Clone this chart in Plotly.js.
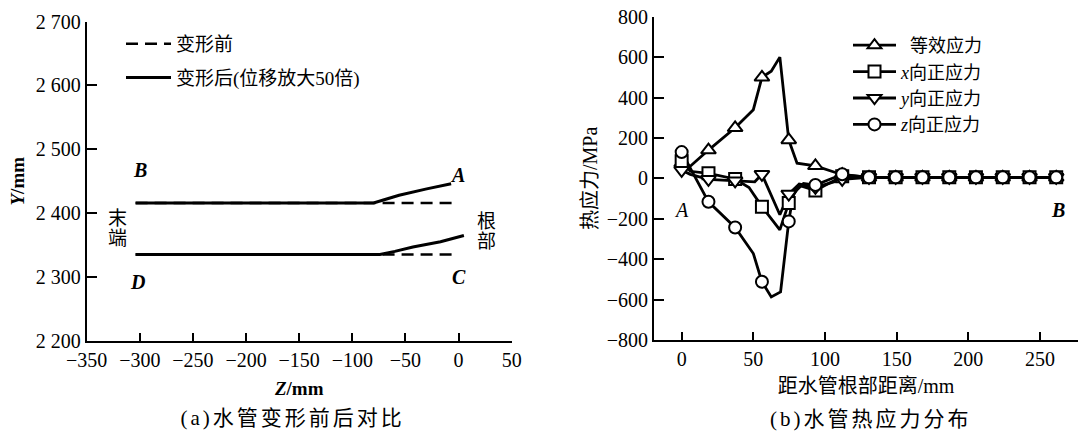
<!DOCTYPE html>
<html><head><meta charset="utf-8">
<script src="https://cdn.plot.ly/plotly-3.0.1.min.js"></script>
<style>html,body{margin:0;padding:0;background:#fff}#chart{width:1080px;height:432px}</style>
</head><body><div id="chart"></div>
<script>
// ---------- (a) pipe deformation ----------
const zBefore = [-304, 0];
const yBeforeTop = [2416, 2416];
const yBeforeBottom = [2335, 2335];
const zAfterTop = [-304, -150, -80, -70, -56, -30, -7];
const yAfterTop = [2416, 2416, 2416, 2421, 2428, 2438, 2446];
const zAfterBottom = [-304, -150, -74, -60, -43, -17, 5];
const yAfterBottom = [2335, 2335, 2335, 2340, 2347, 2355, 2365];
const zTickVals = [-350, -300, -250, -200, -150, -100, -50, 0, 50];
const yTickValsA = [2200, 2300, 2400, 2500, 2600, 2700];
const yTickTextA = ['2 200', '2 300', '2 400', '2 500', '2 600', '2 700'];
const legendA = ['变形前', '变形后(位移放大50倍)'];

// ---------- (b) thermal stress ----------
const markedDist = [0, 18.7, 37.3, 56, 74.7, 93.3, 112, 130.7, 149.3, 168, 186.7, 205.3, 224, 242.7, 261.3];
const equivMarked = [75, 140, 250, 500, 190, 62, 18, 5, 5, 5, 5, 5, 5, 5, 5];
const equivBendDist = [6, 50, 62.5, 68.5, 80.5];
const equivBend = [60, 340, 530, 600, 75];
const sxMarked = [85, 25, -3, -140, -122, -60, 10, 5, 5, 5, 5, 5, 5, 5, 5];
const sxBendDist = [6, 47, 68.5, 82];
const sxBend = [35, -45, -255, -35];
const syMarked = [40, -5, -12, 20, -78, -45, -5, 5, 5, 5, 5, 5, 5, 5, 5];
const syBendDist = [6, 51, 68.5, 82];
const syBend = [20, -17, -180, -28];
const szMarked = [130, -116, -243, -512, -213, -33, 20, 5, 5, 5, 5, 5, 5, 5, 5];
const szBendDist = [50, 62.5, 69, 78, 85];
const szBend = [-372, -587, -562, -74, -25];
const seriesNames = ['\u00a0\u00a0等效应力', '<i>x</i>向正应力', '<i>y</i>向正应力', '<i>z</i>向正应力'];
const seriesSymbols = ['triangle-up', 'square', 'triangle-down', 'circle'];
const distTickVals = [0, 50, 100, 150, 200, 250];
const stressTickVals = [-800, -600, -400, -200, 0, 200, 400, 600, 800];

const SERIF = "'Liberation Serif', 'Times New Roman', 'Noto Sans CJK SC', serif";
const CJK = "'Liberation Serif', 'Noto Sans CJK SC', sans-serif";

function merge(xa, ya, xb, yb) {
  const pts = xa.map((x, i) => [x, ya[i]]).concat(xb.map((x, i) => [x, yb[i]]));
  pts.sort((p, q) => p[0] - q[0]);
  return {x: pts.map(p => p[0]), y: pts.map(p => p[1])};
}

const traces = [];
// (a)
traces.push({
  x: zBefore.concat([null], zBefore), y: yBeforeTop.concat([null], yBeforeBottom),
  xaxis: 'x', yaxis: 'y', mode: 'lines', name: legendA[0], legend: 'legend',
  line: {color: '#000', width: 2.5, dash: '12px,7px'}, legendgroup: 'a1'
});
traces.push({
  x: zAfterTop.concat([null], zAfterBottom), y: yAfterTop.concat([null], yAfterBottom),
  xaxis: 'x', yaxis: 'y', mode: 'lines', name: legendA[1], legend: 'legend',
  line: {color: '#000', width: 3}, legendgroup: 'a2'
});

// (b)
const seriesMarked = [equivMarked, sxMarked, syMarked, szMarked];
const seriesBendX = [equivBendDist, sxBendDist, syBendDist, szBendDist];
const seriesBendY = [equivBend, sxBend, syBend, szBend];
for (let k = 0; k < 4; k++) {
  const m = merge(markedDist, seriesMarked[k], seriesBendX[k], seriesBendY[k]);
  traces.push({x: m.x, y: m.y, xaxis: 'x2', yaxis: 'y2', mode: 'lines', showlegend: false,
    line: {color: '#000', width: 2.8}, hoverinfo: 'skip'});
}
for (let k = 0; k < 4; k++) {
  traces.push({x: markedDist, y: seriesMarked[k], xaxis: 'x2', yaxis: 'y2', mode: 'markers', showlegend: false,
    marker: {symbol: seriesSymbols[k], size: seriesSymbols[k].startsWith('triangle') ? 13 : 12,
      color: '#fff', line: {color: '#000', width: 2}}});
}
for (let k = 0; k < 4; k++) {
  traces.push({x: [null], y: [null], xaxis: 'x2', yaxis: 'y2', mode: 'lines+markers', name: seriesNames[k],
    legend: 'legend2', legendgroup: 'b' + k,
    line: {color: '#000', width: 2.8},
    marker: {symbol: seriesSymbols[k], size: 12, color: '#fff', line: {color: '#000', width: 2}}});
}

const axisCommon = {
  showline: true, linewidth: 2, linecolor: '#000', ticks: 'inside', tickwidth: 2, tickcolor: '#000',
  showgrid: false, zeroline: false, mirror: false, fixedrange: true,
  tickfont: {family: SERIF, size: 20, color: '#000'}
};

function ann(xref, yref, x, y, text, font) {
  return {xref: xref, yref: yref, x: x, y: y, text: text, showarrow: false,
    xanchor: 'center', yanchor: 'middle', font: font};
}

const layout = {
  width: 1080, height: 432,
  margin: {l: 0, r: 0, t: 0, b: 0},
  paper_bgcolor: '#fff', plot_bgcolor: 'rgba(0,0,0,0)',
  font: {family: SERIF, size: 20, color: '#000'},
  showlegend: true,
  xaxis: Object.assign({}, axisCommon, {
    domain: [0.08028, 0.47380], range: [-350, 50], anchor: 'y',
    tickvals: zTickVals, ticklen: 8,
    title: {text: '<b><i>Z</i>/mm</b>', font: {family: SERIF, size: 19}, standoff: 12}
  }),
  yaxis: Object.assign({}, axisCommon, {
    domain: [0.21134, 0.94977], range: [2200, 2700], anchor: 'x',
    tickvals: yTickValsA, ticktext: yTickTextA, ticklen: 10,
    title: {text: '<b><i>Y</i>/mm</b>', font: {family: SERIF, size: 19}, standoff: 6}
  }),
  xaxis2: Object.assign({}, axisCommon, {
    domain: [0.60556, 0.99815], range: [-19.3, 276.5], anchor: 'y2',
    tickvals: distTickVals, ticklen: 8,
    title: {text: '距水管根部距离/mm', font: {family: CJK, size: 20}, standoff: 10}
  }),
  yaxis2: Object.assign({}, axisCommon, {
    domain: [0.21296, 0.96134], range: [-800, 800], anchor: 'x2',
    tickvals: stressTickVals, ticklen: 10,
    title: {text: '热应力/MPa', font: {family: CJK, size: 20}, standoff: 4}
  }),
  legend: {
    x: 121 / 1080, y: 1 - 25 / 432, xanchor: 'left', yanchor: 'top',
    bgcolor: 'rgba(0,0,0,0)', borderwidth: 0, itemwidth: 45,
    font: {family: CJK, size: 19, color: '#000'}, tracegroupgap: 6, traceorder: 'grouped'
  },
  legend2: {
    x: 848 / 1080, y: 1 - 27 / 432, xanchor: 'left', yanchor: 'top',
    bgcolor: 'rgba(0,0,0,0)', borderwidth: 0, itemwidth: 43,
    font: {family: CJK, size: 18, color: '#000'}, tracegroupgap: 0, traceorder: 'grouped'
  },
  annotations: [
    ann('x', 'y', -300, 2467, '<b><i>B</i></b>', {family: SERIF, size: 20}),
    ann('x', 'y', -1, 2460, '<b><i>A</i></b>', {family: SERIF, size: 20}),
    ann('x', 'y', -302, 2292, '<b><i>D</i></b>', {family: SERIF, size: 20}),
    ann('x', 'y', 0, 2300, '<b><i>C</i></b>', {family: SERIF, size: 20}),
    ann('paper', 'paper', 117 / 1080, 1 - 218 / 432, '末', {family: CJK, size: 19}),
    ann('paper', 'paper', 117 / 1080, 1 - 238 / 432, '端', {family: CJK, size: 19}),
    ann('paper', 'paper', 486 / 1080, 1 - 221.7 / 432, '根', {family: CJK, size: 19}),
    ann('paper', 'paper', 486 / 1080, 1 - 241.7 / 432, '部', {family: CJK, size: 19}),
    ann('x2', 'y2', 0, -157, '<i>A</i>', {family: SERIF, size: 20}),
    ann('x2', 'y2', 262.6, -157, '<b><i>B</i></b>', {family: SERIF, size: 20}),
    ann('paper', 'paper', 292 / 1080, 1 - 418 / 432, '(a)水管变形前后对比', {family: CJK, size: 21}),
    ann('paper', 'paper', 871 / 1080, 1 - 419 / 432, '(b)水管热应力分布', {family: CJK, size: 21})
  ]
};

Plotly.newPlot('chart', traces, layout, {staticPlot: true, displayModeBar: false}).then(function () {
  document.querySelectorAll('.annotation-text').forEach(function (t) {
    if (t.textContent.charAt(0) === '(') { t.style.letterSpacing = '3px'; }
  });
});
</script>
</body></html>
